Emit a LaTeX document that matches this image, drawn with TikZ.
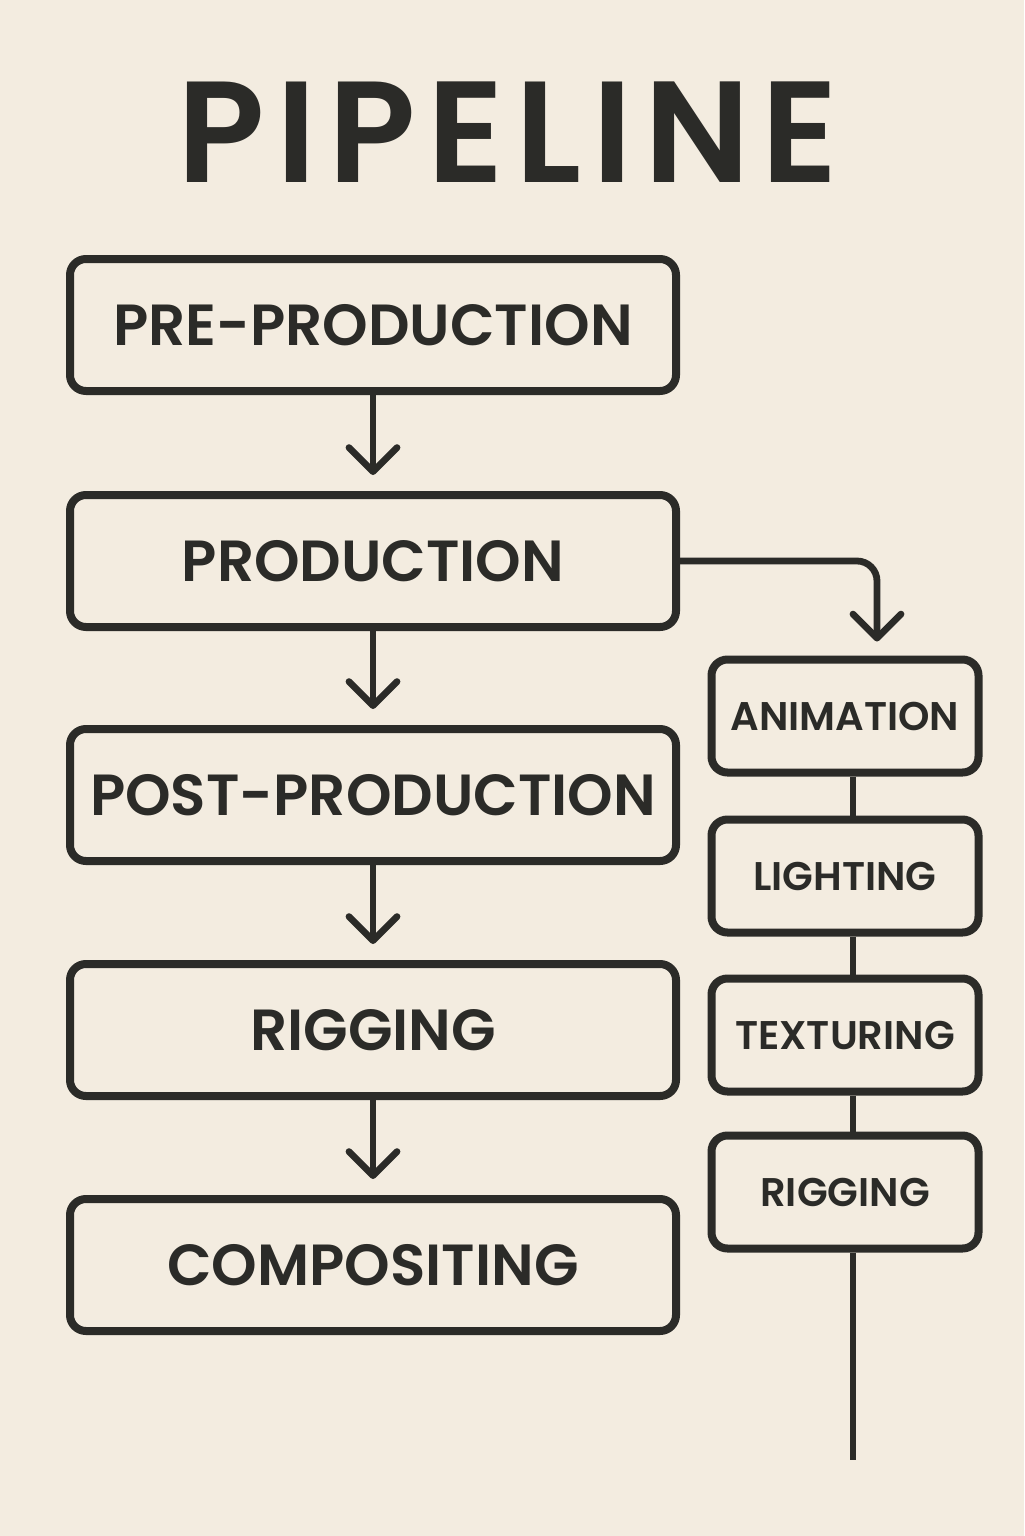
\documentclass[tikz,border=0pt]{standalone}
\usepackage{fontspec}
\setmainfont{Poppins}[BoldFont={* SemiBold}]
\usetikzlibrary{arrows.meta}
\definecolor{paper}{HTML}{F3ECE0}
\definecolor{ink}{HTML}{2B2B28}
\begin{document}
\begin{tikzpicture}[x=0.5pt,y=-0.5pt,
  stage/.style={draw=ink, line width=4pt, rounded corners=8pt, inner sep=0pt,
    minimum width=303pt, minimum height=66pt, font=\fontsize{29}{34}\selectfont\bfseries, text=ink},
  task/.style={draw=ink, line width=4pt, rounded corners=8pt, inner sep=0pt,
    minimum width=133.5pt, minimum height=56.5pt, font=\fontsize{20}{24}\selectfont\bfseries, text=ink},
  flow/.style={draw=ink, line width=3.4pt, line cap=round,
    -{Straight Barb[length=12pt,width=24pt,line width=3.4pt,round]}},
  link/.style={draw=ink, line width=3.4pt}]
\fill[paper] (0,0) rectangle (1024,1536);
\useasboundingbox (0,0) rectangle (1024,1536);
\node[font=\fontsize{72}{80}\selectfont\bfseries\addfontfeature{LetterSpace=8}, text=ink] (title) at (508,132) {PIPELINE};
\node[stage] (pre) at (373,325) {PRE-PRODUCTION};
\node[stage] (prod) at (373,561) {PRODUCTION};
\node[stage] (post) at (373,795) {POST-PRODUCTION};
\node[stage] (rig) at (373,1030) {RIGGING};
\node[stage] (comp) at (373,1265) {COMPOSITING};
\draw[flow] (pre.south) -- ([yshift=8pt]prod.north);
\draw[flow] (prod.south) -- ([yshift=8pt]post.north);
\draw[flow] (post.south) -- ([yshift=8pt]rig.north);
\draw[flow] (rig.south) -- ([yshift=8pt]comp.north);
\node[task] (anim) at (845,716) {ANIMATION};
\node[task] (light) at (845,876) {LIGHTING};
\node[task] (tex) at (845,1035) {TEXTURING};
\node[task] (rig2) at (845,1192) {RIGGING};
\coordinate (tail) at (853,1460);
\draw[flow, rounded corners=10pt] (prod.east) -| ([shift={(16pt,7pt)}]anim.north);
\draw[link] ([xshift=4pt]anim.south) -- ([xshift=4pt]light.north);
\draw[link] ([xshift=4pt]light.south) -- ([xshift=4pt]tex.north);
\draw[link] ([xshift=4pt]tex.south) -- ([xshift=4pt]rig2.north);
\draw[link] ([xshift=4pt]rig2.south) -- (tail);
\end{tikzpicture}
\end{document}
